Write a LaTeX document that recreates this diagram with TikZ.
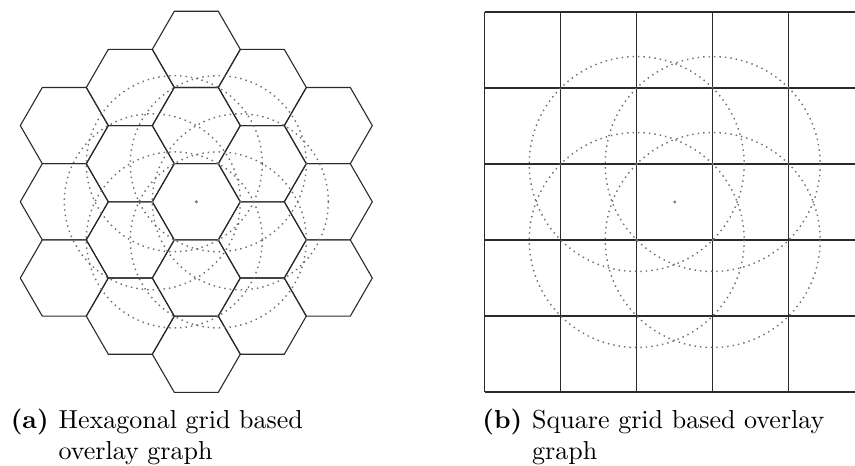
\documentclass[tikz,border=0pt]{standalone}
\usepackage{tikz}
\usetikzlibrary{positioning, calc}
\definecolor{cgrid}{HTML}{2A2A2A}
\definecolor{cring}{HTML}{6E6E6E}
\definecolor{cdot}{HTML}{7A7A7A}
\tikzset{
  cell/.style={draw=cgrid, line width=0.42pt, line join=miter},
  ring/.style={draw=cring, line width=0.55pt, dash pattern=on 0.55pt off 1.55pt},
  ctr/.style={fill=cdot},
  captxt/.style={inner sep=0pt, font=\normalsize, anchor=base west},
  caplbl/.style={inner sep=0pt, font=\normalsize\bfseries},
}
\newcommand{\hexR}{44}
\newcommand{\sqa}{76}

\begin{document}
\begin{tikzpicture}[x=0.3846pt, y=-0.3846pt]
  \useasboundingbox (0,0) rectangle (855,465);
  % ---------- hexagonal grid ----------
  \coordinate (hc) at (196.3,201.8);
  \foreach \qq in {-2,...,2}{
    \pgfmathtruncatemacro\rlo{max(-2,-\qq-2)}
    \pgfmathtruncatemacro\rhi{min(2,-\qq+2)}
    \foreach \rr in {\rlo,...,\rhi}{
      \draw[cell, shift={(hc)}, shift={({1.5*\hexR*\qq},{1.73205*\hexR*(\rr+0.5*\qq)})}]
        (0:\hexR) -- (60:\hexR) -- (120:\hexR) -- (180:\hexR) -- (240:\hexR) -- (300:\hexR) -- cycle;
    }
  }
  \foreach \a in {0,60,...,300}{
    \coordinate (hv\a) at ($(hc)+(\a:\hexR)$);
    \draw[ring] (hv\a) circle[radius=2*\hexR];
    \fill[ctr] (hv\a) circle[radius=1.2];
  }
  \fill[ctr] (hc) circle[radius=1.7];
  % ---------- square grid ----------
  \coordinate (sq) at (484.7,12);
  \foreach \k in {0,...,5}{
    \draw[cell] ($(sq)+(\sqa*\k,0)$) -- ++(0,5*\sqa);
    \draw[cell] ($(sq)+(0,\sqa*\k)$) -- ++(5*\sqa,0);
  }
  \coordinate (sc) at ($(sq)+(2.5*\sqa,2.5*\sqa)$);
  \foreach \dx/\dy [count=\i] in {-1/-1,1/-1,-1/1,1/1}{
    \coordinate (sv\i) at ($(sc)+(0.5*\sqa*\dx,0.5*\sqa*\dy)$);
    \draw[ring] (sv\i) circle[radius=1.41421*\sqa];
    \fill[ctr] (sv\i) circle[radius=1.2];
  }
  \fill[ctr] (sc) circle[radius=1.7];
  % ---------- captions ----------
  \node[captxt] (capa1) at (58,428) {Hexagonal grid based};
  \node[captxt] (capa2) at ($(capa1.base west)+(0,31.2)$) {overlay graph};
  \node[caplbl, base left=3.4pt of capa1] (capa) {(a)};
  \node[captxt] (capb1) at (531.7,428) {Square grid based overlay};
  \node[captxt] (capb2) at ($(capb1.base west)+(0,31.2)$) {graph};
  \node[caplbl, base left=3.4pt of capb1] (capb) {(b)};
\end{tikzpicture}
\end{document}
